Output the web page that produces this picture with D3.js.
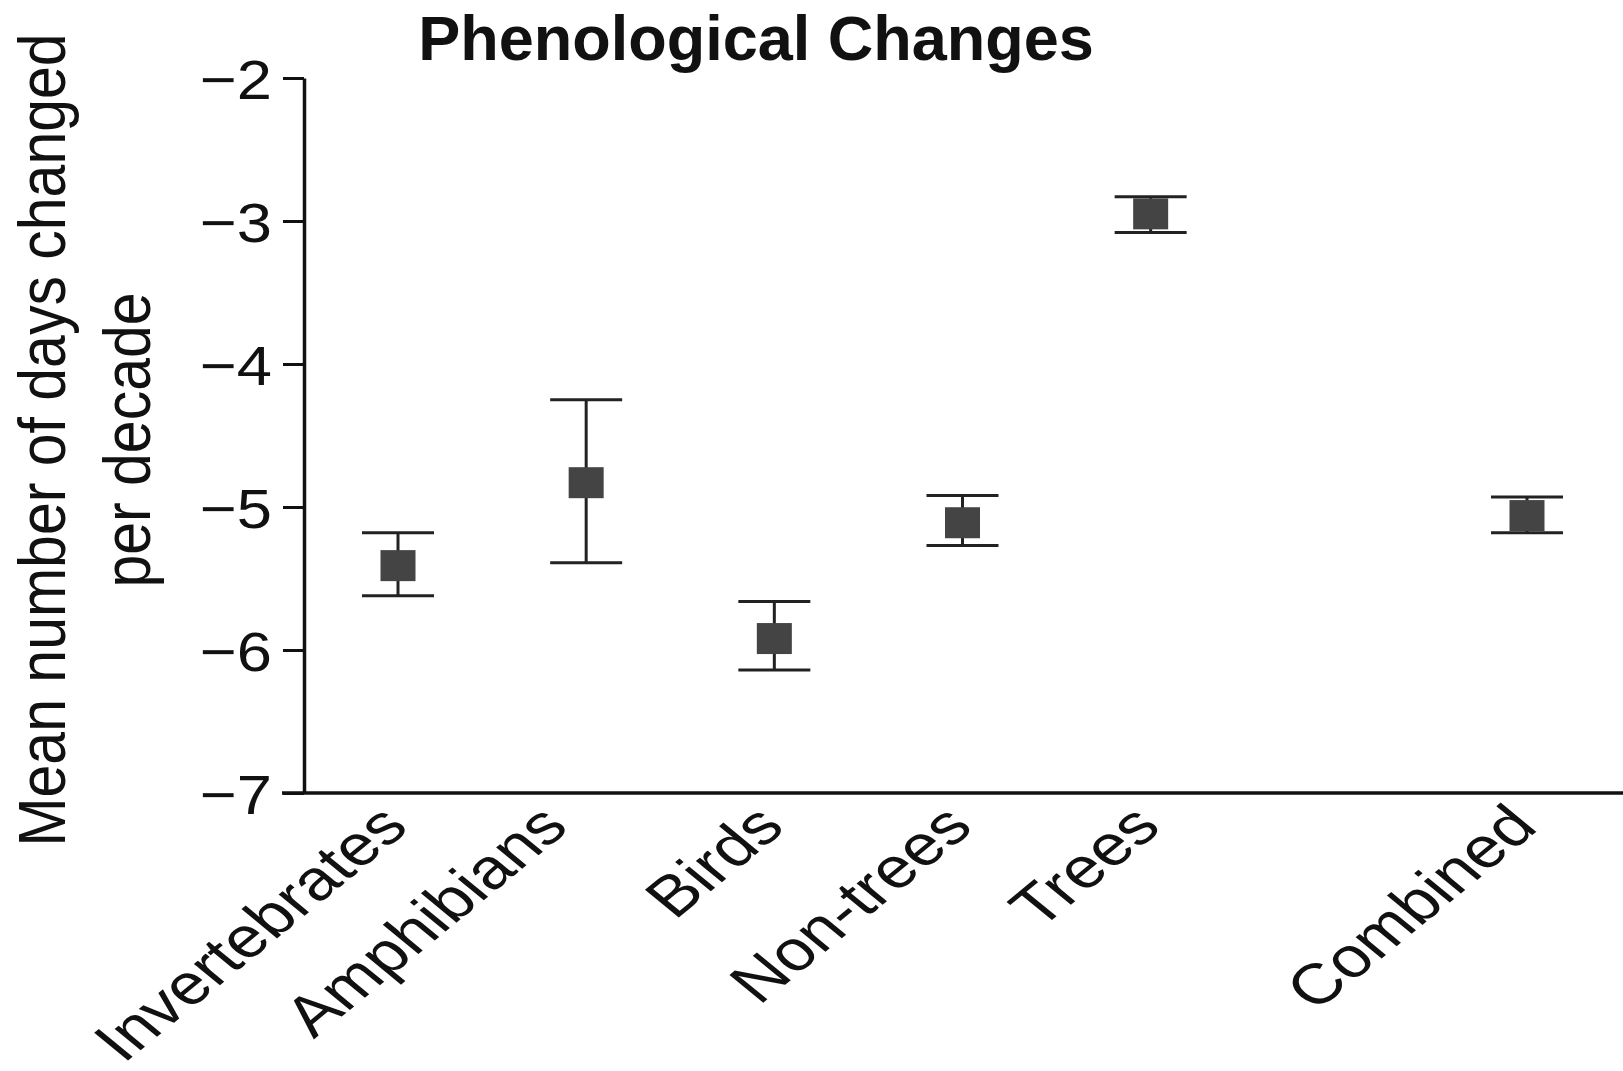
<!DOCTYPE html>
<html>
<head>
<meta charset="utf-8">
<script src="https://cdn.jsdelivr.net/npm/d3@7"></script>
<style>
  body { margin: 0; background: #fff; }
  svg text { font-family: "Liberation Sans", Arial, Helvetica, sans-serif; fill: #111; }
</style>
</head>
<body>
<div id="chart"></div>
<script>
// data
var categories = ["Invertebrates", "Amphibians", "Birds", "Non-trees", "Trees", "Combined"];
var slots = ["Invertebrates", "Amphibians", "Birds", "Non-trees", "Trees", " ", "Combined"];
var means = [-5.41, -4.83, -5.92, -5.11, -2.95, -5.06];
var upper = [-5.18, -4.25, -5.66, -4.92, -2.83, -4.93];
var lower = [-5.62, -5.39, -6.14, -5.27, -3.08, -5.18];
var yTicks = [-7, -6, -5, -4, -3, -2];

var W = 1623, H = 1071;
var sx = 1.13; // the scan is stretched sideways a bit

var svg = d3.select("#chart").append("svg")
    .attr("width", W).attr("height", H);

var y = d3.scaleLinear().domain([-7, -2]).range([793, 78]);
var x = d3.scalePoint().domain(slots).range([398, 1527]);
var axisX = 304;

// title
svg.append("text")
    .attr("x", 756).attr("y", 60)
    .attr("text-anchor", "middle")
    .style("font-size", "63px").style("font-weight", "bold")
    .text("Phenological Changes");

// y axis
var gy = svg.append("g")
    .attr("transform", "translate(" + axisX + ",0)")
    .call(d3.axisLeft(y).tickValues(yTicks).tickSize(21).tickSizeOuter(0)
      .tickFormat(function(d) { return "\u2212" + Math.abs(d); }));
gy.select(".domain").attr("stroke", "#111").attr("stroke-width", 3.5);
gy.selectAll(".tick line").attr("stroke", "#111").attr("stroke-width", 3);
gy.selectAll(".tick text")
    .attr("x", 0).attr("dy", "0.36em")
    .attr("transform", "translate(-32,0) scale(" + sx + ",1)")
    .style("font-size", "56px").attr("fill", "#111");

// x axis
var gx = svg.append("g")
    .attr("transform", "translate(0,793)")
    .call(d3.axisBottom(x).tickSize(0));
gx.select(".domain").attr("d", "M282,0H" + W).attr("stroke", "#111").attr("stroke-width", 3.5);
// the Amphibians label sits a little left of its tick in the original
var nudge = {"Amphibians": -28};
gx.selectAll(".tick text")
    .attr("x", 0).attr("y", 0).attr("dy", 0)
    .attr("text-anchor", "end")
    .attr("transform", function(d) {
      return "translate(" + (12 + (nudge[d] || 0)) + ",36) scale(1.22,1) rotate(-45)";
    })
    .style("font-size", "57px").attr("fill", "#111");

// y title
var yTitle = ["Mean number of days changed", "per decade"];
svg.selectAll(".ytitle").data(yTitle).enter().append("text")
    .attr("class", "ytitle")
    .attr("text-anchor", "middle")
    .attr("transform", function(d, i) {
      return "translate(" + (65 + i * 85) + ",440) scale(" + sx + ",1) rotate(-90)";
    })
    .style("font-size", "59px")
    .text(function(d) { return d; });

// error bars
var rows = categories.map(function(c, i) {
  return {cat: c, mean: means[i], hi: upper[i], lo: lower[i]};
});
var capW = 36, boxW = 35, boxH = 31;
var g = svg.append("g").attr("stroke", "#222").attr("stroke-width", 3);

g.selectAll(".stem").data(rows).enter().append("line")
    .attr("x1", function(d) { return x(d.cat); })
    .attr("x2", function(d) { return x(d.cat); })
    .attr("y1", function(d) { return y(d.hi); })
    .attr("y2", function(d) { return y(d.lo); });
g.selectAll(".capHi").data(rows).enter().append("line")
    .attr("x1", function(d) { return x(d.cat) - capW; })
    .attr("x2", function(d) { return x(d.cat) + capW; })
    .attr("y1", function(d) { return y(d.hi); })
    .attr("y2", function(d) { return y(d.hi); });
g.selectAll(".capLo").data(rows).enter().append("line")
    .attr("x1", function(d) { return x(d.cat) - capW; })
    .attr("x2", function(d) { return x(d.cat) + capW; })
    .attr("y1", function(d) { return y(d.lo); })
    .attr("y2", function(d) { return y(d.lo); });

svg.append("g").selectAll("rect").data(rows).enter().append("rect")
    .attr("x", function(d) { return x(d.cat) - boxW / 2; })
    .attr("y", function(d) { return y(d.mean) - boxH / 2; })
    .attr("width", boxW).attr("height", boxH)
    .attr("fill", "#444");
</script>
</body>
</html>
